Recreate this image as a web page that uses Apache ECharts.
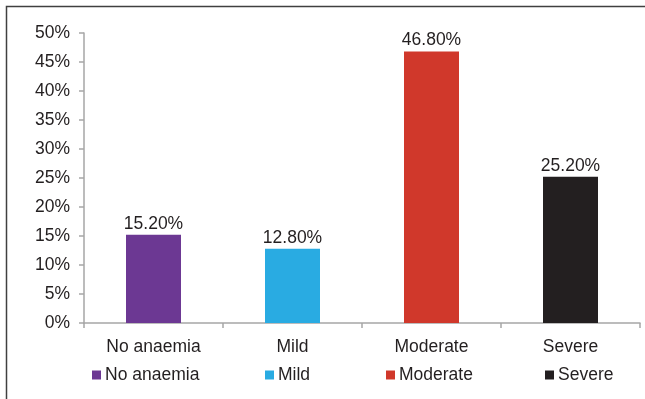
<!DOCTYPE html>
<html><head><meta charset="utf-8">
<script src="https://cdn.jsdelivr.net/npm/echarts@6/dist/echarts.min.js"></script>
<style>html,body{margin:0;padding:0;background:#fff}#c{width:645px;height:399px}</style>
</head><body><div id="c"></div>
<script>
const categories = ['No anaemia', 'Mild', 'Moderate', 'Severe'];
const values = [15.2, 12.8, 46.8, 25.2];
const colors = ['#6C3893', '#29ABE2', '#D0382B', '#231F20'];
const yTicks = [0, 5, 10, 15, 20, 25, 30, 35, 40, 45, 50];
const legendLeft = [87, 260, 381, 540];

const font = 'Liberation Sans, Arial, sans-serif';
const txt = '#231F20';
const fs = 17.5;
const chart = echarts.init(document.getElementById('c'), null, {renderer: 'canvas'});
chart.setOption({
  animation: false,
  graphic: [{type: 'rect', shape: {x: 6.5, y: 6.5, width: 700, height: 500}, style: {fill: 'none', stroke: '#404040', lineWidth: 1.5}, silent: true}],
  grid: {left: 84, right: 5, top: 33, bottom: 76, containLabel: false},
  legend: categories.map((c, i) => ({
    data: [c], left: legendLeft[i], top: 361, itemWidth: 9, itemHeight: 9, itemGap: 0,
    icon: 'rect', textStyle: {fontFamily: font, fontSize: fs, color: txt, padding: [0, 0, 0, -1]}
  })),
  xAxis: {
    type: 'category', data: categories,
    axisLine: {lineStyle: {color: '#A6A6A6', width: 1.5}},
    axisTick: {show: true, length: 5, lineStyle: {color: '#A6A6A6', width: 1.5}},
    axisLabel: {fontFamily: font, fontSize: fs, color: txt, margin: 15}
  },
  yAxis: {
    type: 'value', min: yTicks[0], max: yTicks[yTicks.length - 1], interval: 5,
    splitLine: {show: false},
    axisLine: {show: true, lineStyle: {color: '#A6A6A6', width: 1.5}},
    axisTick: {show: true, length: 5, lineStyle: {color: '#A6A6A6', width: 1.5}},
    axisLabel: {fontFamily: font, fontSize: fs, color: txt, margin: 14, formatter: '{value}%'}
  },
  series: categories.map((c, i) => ({
    name: c, type: 'bar', stack: 'all', barWidth: 55,
    itemStyle: {color: colors[i]},
    label: {show: true, position: 'top', distance: 2, fontFamily: font, fontSize: fs, color: txt,
      formatter: p => p.value.toFixed(2) + '%'},
    data: categories.map((_, j) => j === i ? values[i] : '-')
  }))
});
</script></body></html>
